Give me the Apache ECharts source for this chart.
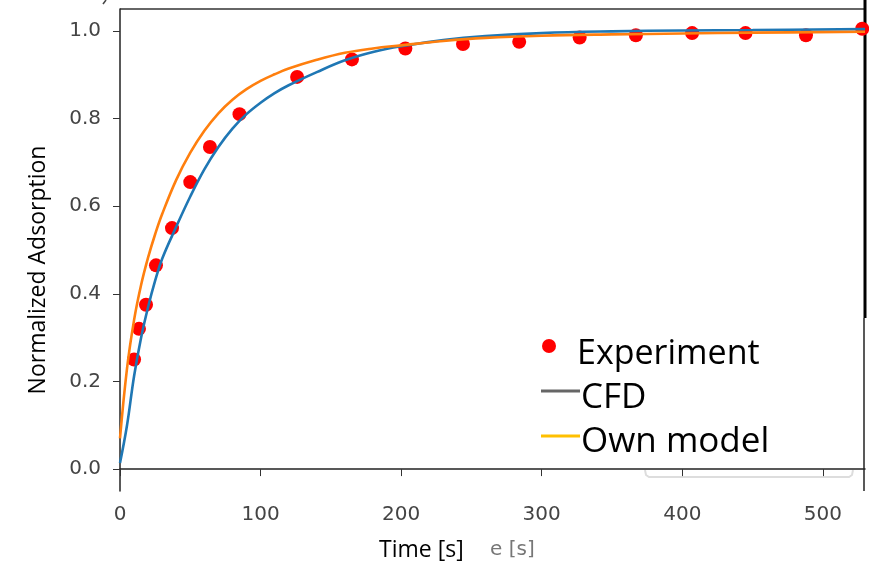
<!DOCTYPE html>
<html>
<head>
<meta charset="utf-8">
<script src="https://cdn.jsdelivr.net/npm/echarts@6/dist/echarts.min.js"></script>
<style>
  html, body { margin: 0; padding: 0; background: #fff; }
  #chart { width: 869px; height: 564px; }
</style>
</head>
<body>
<div id="chart"></div>
<script>
// experiment points
const expTime = [10, 13.5, 18.5, 25.6, 37, 50, 64, 85, 126, 165, 203, 244, 284, 327, 367, 407, 445, 488, 528];
const expValue = [0.25, 0.32, 0.375, 0.465, 0.55, 0.655, 0.735, 0.81, 0.895, 0.935, 0.96, 0.97, 0.975, 0.985, 0.99, 0.995, 0.995, 0.99, 1.005];

// CFD curve (blue)
const cfdTime = [0, 5, 10, 15, 20, 25, 30, 40, 50, 60, 70, 80, 90, 100, 110, 120, 140, 160, 180, 200, 230, 260, 300, 350, 400, 450, 530];
const cfdValue = [0.014, 0.1, 0.212, 0.3, 0.37, 0.43, 0.48, 0.553, 0.622, 0.684, 0.735, 0.777, 0.81, 0.836, 0.858, 0.876, 0.906, 0.933, 0.952, 0.965, 0.979, 0.988, 0.995, 0.999, 1.001, 1.002, 1.004];

// own model curve (orange)
const ownTime = [0, 5, 10, 15, 20, 25, 30, 40, 50, 60, 70, 80, 90, 100, 110, 120, 140, 160, 180, 200, 230, 260, 300, 350, 400, 450, 530];
const ownValue = [0.07, 0.23, 0.34, 0.42, 0.483, 0.536, 0.582, 0.66, 0.722, 0.772, 0.812, 0.843, 0.867, 0.886, 0.901, 0.914, 0.934, 0.95, 0.96, 0.967, 0.977, 0.984, 0.989, 0.992, 0.994, 0.996, 0.998];

const xTicks = [0, 100, 200, 300, 400, 500];
const yTicks = [0, 0.2, 0.4, 0.6, 0.8, 1.0];

const zip = (a, b) => a.map((v, i) => [v, b[i]]);

const chart = echarts.init(document.getElementById("chart"));

const tickLabel = {
  color: "#444",
  fontSize: 20,
  fontFamily: "DejaVu Sans",
};

const option = {
  animation: false,
  grid: { left: 120, right: 4, top: 9, bottom: 73 },
  xAxis: {
    type: "value",
    min: 0,
    max: 530,
    splitLine: { show: false },
    axisLine: { lineStyle: { color: "#222", width: 1.5 } },
    axisTick: { customValues: xTicks, length: 7, lineStyle: { color: "#333" } },
    axisLabel: { customValues: xTicks, margin: 14, ...tickLabel },
  },
  yAxis: {
    type: "value",
    min: -0.05,
    max: 1.05,
    splitLine: { show: false },
    axisLine: { show: true, lineStyle: { color: "#222", width: 1.5 } },
    axisTick: { show: true, customValues: yTicks, length: 7, lineStyle: { color: "#333" } },
    axisLabel: {
      customValues: yTicks,
      margin: 19,
      formatter: (v) => v.toFixed(1),
      ...tickLabel,
    },
  },
  series: [
    {
      name: "Experiment",
      type: "scatter",
      data: zip(expTime, expValue),
      symbolSize: 14,
      itemStyle: { color: "#ff0000", opacity: 1 },
      z: 2,
    },
    {
      name: "CFD",
      type: "line",
      data: zip(cfdTime, cfdValue),
      showSymbol: false,
      smooth: 0.4,
      lineStyle: { color: "#1f77b4", width: 2.6 },
      z: 3,
    },
    {
      name: "Own model",
      type: "line",
      data: zip(ownTime, ownValue),
      showSymbol: false,
      smooth: 0.4,
      lineStyle: { color: "#ff7f0e", width: 2.6 },
      z: 3,
    },
  ],
  graphic: [
    // top and right frame
    { type: "line", shape: { x1: 120, y1: 9, x2: 865, y2: 9 }, style: { stroke: "#333", lineWidth: 1.5 } },
    { type: "line", shape: { x1: 865, y1: 0, x2: 865, y2: 318 }, style: { stroke: "#000", lineWidth: 3 } },
    { type: "line", shape: { x1: 864, y1: 318, x2: 864, y2: 491 }, style: { stroke: "#222", lineWidth: 1.5 } },
    { type: "line", shape: { x1: 106, y1: 0, x2: 103, y2: 4 }, style: { stroke: "#444", lineWidth: 1.5 } },
    // axis names
    {
      type: "text",
      x: 38,
      y: 270,
      rotation: Math.PI / 2,
      style: {
        text: "Normalized Adsorption",
        fill: "#000",
        font: '23px "Open Sans"',
        align: "center",
        verticalAlign: "middle",
      },
    },
    {
      type: "text",
      x: 379,
      y: 550,
      style: { text: "Time [s]", fill: "#000", font: '23px "Open Sans"', verticalAlign: "middle" },
    },
    {
      type: "text",
      x: 490,
      y: 550,
      style: { text: "e [s]", fill: "#777", font: '20px "DejaVu Sans"', verticalAlign: "middle" },
    },
    // pasted legend
    { type: "circle", shape: { cx: 549, cy: 346, r: 7 }, style: { fill: "#ff0000" } },
    {
      type: "text",
      x: 577,
      y: 354,
      style: { text: "Experiment", fill: "#000", font: '34px "Open Sans"', verticalAlign: "middle" },
    },
    { type: "line", shape: { x1: 541, y1: 391, x2: 580, y2: 391 }, style: { stroke: "#666", lineWidth: 3 } },
    {
      type: "text",
      x: 581,
      y: 398,
      style: { text: "CFD", fill: "#000", font: '35px "Open Sans"', verticalAlign: "middle" },
    },
    { type: "line", shape: { x1: 541, y1: 436, x2: 580, y2: 436 }, style: { stroke: "#ffc000", lineWidth: 3 } },
    {
      type: "text",
      x: 581,
      y: 442,
      style: { text: "Own model", fill: "#000", font: '35px "Open Sans"', verticalAlign: "middle" },
    },
    {
      type: "polyline",
      shape: { points: [[645, 470], [646, 475], [649, 477], [849, 477], [852, 475], [853, 470]] },
      style: { stroke: "#ddd", lineWidth: 2, fill: null },
    },
  ],
};

chart.setOption(option);
</script>
</body>
</html>
